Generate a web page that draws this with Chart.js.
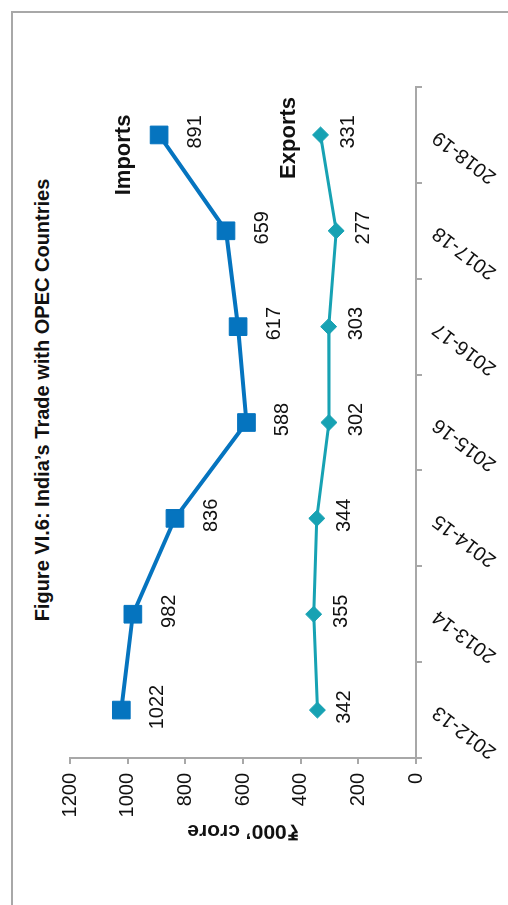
<!DOCTYPE html>
<html>
<head>
<meta charset="utf-8">
<script src="https://cdn.jsdelivr.net/npm/chart.js@4.4.1/dist/chart.umd.min.js"></script>
<style>
html, body { margin: 0; padding: 0; overflow: hidden; background: #fff; width: 508px; height: 905px; }
/* la figura original viene girada 90 grados */
#giro { position: absolute; left: 0; top: 905px; width: 905px; height: 508px; transform-origin: 0 0; transform: rotate(-90deg); }
#marco { position: absolute; left: -20px; top: 11px; width: 914px; height: 600px; box-sizing: border-box;
         border-top: 2px solid #a8a8a8; border-right: 2px solid #a8a8a8; }
#titulo { position: absolute; left: 105px; top: 31px; width: 800px; line-height: 24px; text-align: center;
          font: bold 20px 'Liberation Sans', Arial, sans-serif; color: #111; }
canvas { position: absolute; left: 0; top: 0; }
</style>
</head>
<body>
<div id="giro">
  <div id="marco"></div>
  <div id="titulo">Figure VI.6: India’s Trade with OPEC Countries</div>
  <canvas id="grafico" width="905" height="508"></canvas>
</div>
<script>
const years = ['2012-13', '2013-14', '2014-15', '2015-16', '2016-17', '2017-18', '2018-19'];
const importsData = [1022, 982, 836, 588, 617, 659, 891];
const exportsData = [342, 355, 344, 302, 303, 277, 331];
const valueTicks = [0, 200, 400, 600, 800, 1000, 1200];

const fuente = "'Liberation Sans', Arial, sans-serif";
Chart.defaults.font.family = fuente;
Chart.defaults.color = '#111';

// numeros junto a cada punto y nombre de la serie al final
const desplaza = {
    Imports: { gap: 42, dx: -20, dy: -29 },
    Exports: { gap: 33, dx: -3, dy: -26 }
};
const etiquetas = {
    id: 'etiquetas',
    afterDatasetsDraw(chart) {
        const ctx = chart.ctx;
        ctx.save();
        ctx.fillStyle = '#111';
        ctx.textAlign = 'center';
        ctx.textBaseline = 'alphabetic';
        chart.data.datasets.forEach((ds, i) => {
            const meta = chart.getDatasetMeta(i);
            const d = desplaza[ds.label];
            ctx.font = '20px ' + fuente;
            meta.data.forEach((pt, j) => {
                ctx.fillText(ds.data[j], pt.x + 3, pt.y + d.gap);
            });
            const ult = meta.data[meta.data.length - 1];
            ctx.font = 'bold 22px ' + fuente;
            ctx.fillText(ds.label, ult.x + d.dx, ult.y + d.dy);
        });
        ctx.restore();
    }
};

const ctx = document.getElementById('grafico').getContext('2d');
new Chart(ctx, {
    type: 'line',
    data: {
        labels: years,
        datasets: [{
            label: 'Imports',
            data: importsData,
            borderColor: '#0574bf',
            backgroundColor: '#0574bf',
            borderWidth: 4,
            pointStyle: 'rect',
            pointRadius: 12.5,
            pointBorderWidth: 1,
            tension: 0
        }, {
            label: 'Exports',
            data: exportsData,
            borderColor: '#17a2b3',
            backgroundColor: '#17a2b3',
            borderWidth: 3,
            pointStyle: 'rectRot',
            pointRadius: 8,
            pointBorderWidth: 1,
            tension: 0
        }]
    },
    options: {
        responsive: false,
        animation: false,
        clip: false,
        layout: { padding: { left: 58, right: 87, top: 70, bottom: 0 } },
        plugins: {
            legend: { display: false },
            title: { display: false },
            tooltip: { enabled: false }
        },
        scales: {
            x: {
                offset: true,
                afterFit: s => { s.height = 92; },
                grid: { offset: true, drawOnChartArea: false, tickLength: 6, color: '#a8a8a8', lineWidth: 2 },
                border: { color: '#a8a8a8', width: 2 },
                ticks: { autoSkip: false, minRotation: 53, maxRotation: 53, padding: 6, font: { size: 20 } }
            },
            y: {
                min: valueTicks[0],
                max: valueTicks[valueTicks.length - 1],
                afterBuildTicks: s => { s.ticks = valueTicks.map(v => ({ value: v })); },
                afterFit: s => { s.width = 89; },
                grid: { drawOnChartArea: false, tickLength: 6, color: '#a8a8a8', lineWidth: 2 },
                border: { color: '#a8a8a8', width: 2 },
                ticks: { padding: 9, font: { size: 20 }, callback: v => String(v) },
                title: {
                    display: true,
                    text: '₹000’ crore',
                    font: { size: 21, weight: 'bold' },
                    padding: { top: 4, bottom: 0 }
                }
            }
        }
    },
    plugins: [etiquetas]
});
</script>
</body>
</html>
